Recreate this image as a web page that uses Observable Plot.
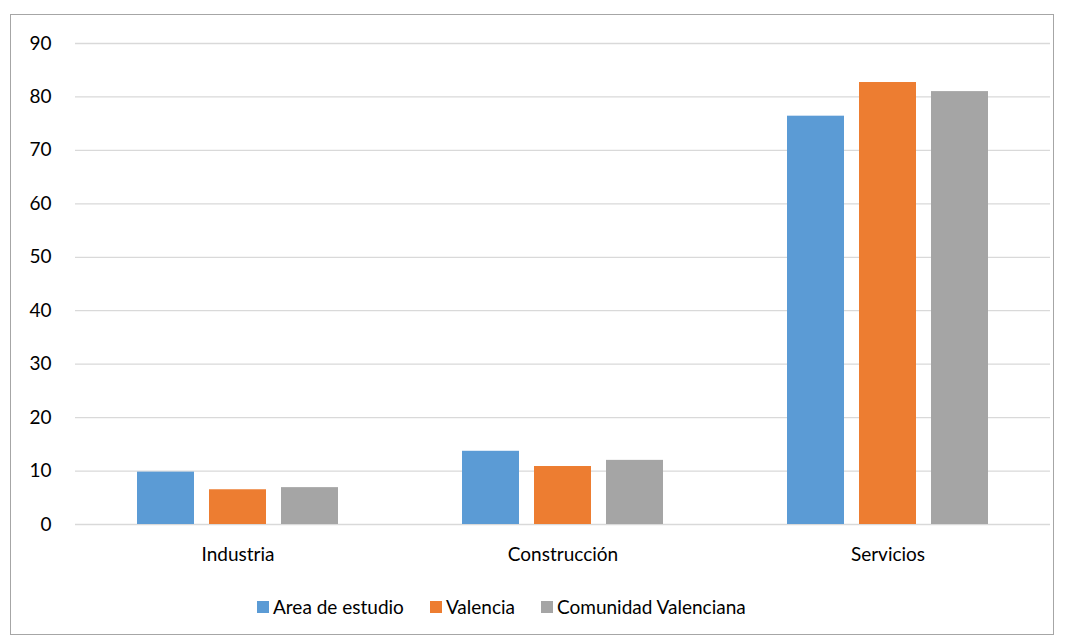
<!DOCTYPE html>
<html>
<head>
<meta charset="utf-8">
<script src="https://cdn.jsdelivr.net/npm/d3@7"></script>
<script src="https://cdn.jsdelivr.net/npm/@observablehq/plot@0.6"></script>
<style>
  html, body { margin: 0; padding: 0; background: #fff; }
  #frame { position: absolute; left: 10px; top: 14px; width: 1044px; height: 621px; border: 1px solid #a6a6a6; box-sizing: border-box; }
  #chart { position: absolute; left: 0; top: 0; }
  #legend { position: absolute; left: 257px; top: 595px; display: flex; align-items: center; font-family: Lato, "Open Sans", sans-serif; font-size: 19px; color: #000; }
  .item { display: flex; align-items: center; margin-right: 26px; }
  .sw { width: 12px; height: 12px; margin-right: 4px; }
</style>
</head>
<body>
<div id="frame"></div>
<div id="chart"></div>
<div id="legend"></div>
<script>
const categories = ["Industria", "Construcción", "Servicios"];
const seriesNames = ["Area de estudio", "Valencia", "Comunidad Valenciana"];
const areaEstudio = [9.8, 13.7, 76.4];
const valencia = [6.5, 10.85, 82.7];
const comunidad = [6.9, 12.0, 81.0];
const yTicks = [0, 10, 20, 30, 40, 50, 60, 70, 80, 90];
const colors = ["#5B9BD5", "#ED7D31", "#A5A5A5"];

const seriesValues = [areaEstudio, valencia, comunidad];
const data = [];
categories.forEach((c, i) => {
  seriesNames.forEach((s, j) => data.push({category: c, series: s, value: seriesValues[j][i]}));
});

const chart = Plot.plot({
  width: 1065,
  height: 580,
  marginLeft: 75,
  marginRight: 15,
  marginTop: 43,
  marginBottom: 56,
  style: { fontFamily: "Lato, 'Open Sans', sans-serif", fontSize: "19px", color: "#000", background: "transparent" },
  fx: { domain: categories, padding: 0, label: null, tickSize: 0, tickPadding: 23 },
  x: { domain: seriesNames, paddingInner: 0.2083, paddingOuter: 0.861, axis: null },
  y: { domain: [0, 90], ticks: yTicks, label: null, tickSize: 0, tickPadding: 24 },
  color: { domain: seriesNames, range: colors },
  marks: [
    Plot.ruleY(yTicks, { stroke: "#d9d9d9", strokeWidth: 1.3 }),
    Plot.barY(data, { fx: "category", x: "series", y: "value", fill: "series" })
  ]
});
document.getElementById("chart").appendChild(chart);

const legend = document.getElementById("legend");
seriesNames.forEach((s, j) => {
  const it = document.createElement("div");
  it.className = "item";
  const sw = document.createElement("div");
  sw.className = "sw";
  sw.style.background = colors[j];
  const t = document.createElement("span");
  t.textContent = s;
  it.appendChild(sw); it.appendChild(t);
  legend.appendChild(it);
});
</script>
</body>
</html>
